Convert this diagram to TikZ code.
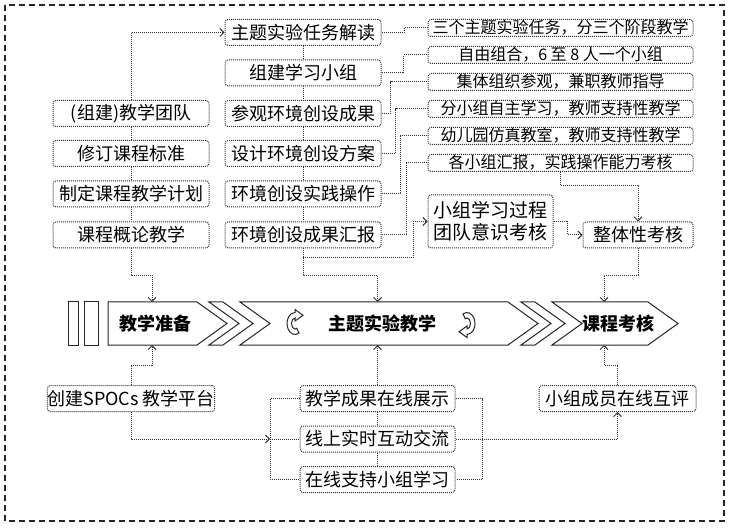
\documentclass[tikz,border=0pt]{standalone}
\usepackage{fontspec}
\setmainfont{Noto Sans CJK SC}
\usetikzlibrary{arrows.meta}

\begin{document}
\begin{tikzpicture}[x=0.5pt, y=-0.5pt, font=\fontsize{9}{11}\selectfont]
    \tikzstyle{task} = [rectangle, rounded corners=1.5pt, draw=black!80, line width=0.5pt, dash pattern=on 0.5pt off 0.5pt, minimum width=78pt, minimum height=13pt, inner sep=0pt, align=center]
    \tikzstyle{note} = [task, minimum width=132.5pt, minimum height=8.5pt, font=\fontsize{8}{9}\selectfont]
    \tikzstyle{link} = [draw=black!80, line width=0.5pt, dash pattern=on 0.5pt off 0.5pt]
    \tikzstyle{arrow} = [link, ->, >={Straight Barb[length=2pt,width=4pt]}]
    \tikzstyle{band} = [draw=black!85, line width=0.5pt, fill=white]
    \tikzstyle{stage} = [font=\bfseries\fontsize{9}{11}\selectfont]
    \useasboundingbox (0,0) rectangle (731,528);
    \draw[black!85, line width=0.6pt, dash pattern=on 3pt off 2pt] (5,5) rectangle (724,521);

    % middle band
    \draw[band] (68,302) rectangle (78,345);
    \draw[band] (84,302) rectangle (98,345);
    \draw[band] (108,302) -- (197,302) -- (227,323.5) -- (197,345) -- (108,345) -- cycle;
    \draw[band] (209,302) -- (223,302) -- (253,323.5) -- (223,345) -- (209,345) -- (239,323.5) -- cycle;
    \draw[band] (240,302) -- (508,302) -- (538,323.5) -- (508,345) -- (240,345) -- (270,323.5) -- cycle;
    \draw[band] (521,302) -- (535,302) -- (565,323.5) -- (535,345) -- (521,345) -- (551,323.5) -- cycle;
    \draw[band] (552,302) -- (648,302) -- (678,323.5) -- (648,345) -- (552,345) -- (582,323.5) -- cycle;
    \draw[band] (299,333) arc[start angle=60, end angle=270, x radius=8, y radius=11] -- (295,309.5) -- (303,315.3) -- (295,321) -- (295,318) arc[start angle=270, end angle=60, x radius=3.5, y radius=5.5] -- cycle;
    \draw[band] (463,314) arc[start angle=240, end angle=450, x radius=8, y radius=11] -- (467,337.5) -- (459,331.8) -- (467,326) -- (467,329) arc[start angle=450, end angle=240, x radius=3.5, y radius=5.5] -- cycle;
    \node[stage] (prep) at (155,323.5) {教学准备};
    \node[stage] (theme) at (382,323.5) {主题实验教学};
    \node[stage] (exam) at (618,323.5) {课程考核};
    \coordinate (prepIn) at (152,302);
    \coordinate (themeIn) at (377.5,302);
    \coordinate (examIn) at (604,302);
    \coordinate (prepOut) at (152,345);
    \coordinate (themeOut) at (377.5,345);
    \coordinate (examOut) at (604,345);

    % upper part
    \node[task] (T1) at (303,32.5) {主题实验任务解读};
    \node[task] (T2) at (303,73) {组建学习小组};
    \node[task] (T3) at (303,113.5) {参观环境创设成果};
    \node[task] (T4) at (303,153.5) {设计环境创设方案};
    \node[task] (T5) at (303,194) {环境创设实践操作};
    \node[task] (T6) at (303,235) {环境创设成果汇报};
    \node[task] (L1) at (131,113.5) {(组建)教学团队};
    \node[task] (L2) at (131,153.5) {修订课程标准};
    \node[task] (L3) at (131,194) {制定课程教学计划};
    \node[task] (L4) at (131,235) {课程概论教学};
    \node[note] (R1) at (560.5,28) {三个主题实验任务，分三个阶段教学};
    \node[note] (R2) at (560.5,55) {自由组合，6 至 8 人一个小组};
    \node[note] (R3) at (560.5,82) {集体组织参观，兼职教师指导};
    \node[note] (R4) at (560.5,109) {分小组自主学习，教师支持性教学};
    \node[note] (R5) at (560.5,136) {幼儿园仿真教室，教师支持性教学};
    \node[note] (R6) at (560.5,163) {各小组汇报，实践操作能力考核};
    \node[task, minimum width=62.5pt, minimum height=26.5pt, font=\fontsize{9.5}{11}\selectfont] (G) at (490.5,221.5) {小组学习过程\\团队意识考核};
    \node[task, minimum width=55pt] (Z) at (638,235) {整体性考核};
    \coordinate (split) at (303,258);

    \draw[link] (T1) -- (T2) -- (T3) -- (T4) -- (T5) -- (T6);
    \draw[link] (L1) -- (L2) -- (L3) -- (L4);
    \draw[arrow] (L1.north) |- (T1.west);
    \draw[arrow] (L4.south) -- ++(0,27) -| (prepIn);
    \draw[arrow] (T6.south) -- ++(0,27) -| (themeIn);
    \draw[arrow] (split) -- ++(110,0) |- (G.west);
    \draw[link] (T1.east) -- ++(23,0) |- (R1.west);
    \draw[link] (T2.east) -- ++(22,0) |- (R2.west);
    \draw[link] (T3.east) -- ++(9,0) |- (R3.west);
    \draw[link] (T4.east) -- ++(14,0) |- (R4.west);
    \draw[link] (T5.east) -- ++(19,0) |- (R5.west);
    \draw[link] (T6.east) -- ++(25,0) |- (R6.west);
    \draw[arrow] (R6.south) -- ++(0,13.5) -| (Z.north);
    \draw[arrow] (G.east) -- ++(14,0) |- (Z.west);
    \draw[arrow] (Z.south) -- ++(0,27) -| (examIn);

    % lower part
    \node[task, fill=white] (S) at (131,398.5) {创建SPOCs 教学平台};
    \node[task, minimum width=77.5pt, fill=white] (B1) at (377.5,398.5) {教学成果在线展示};
    \node[task, minimum width=77.5pt, fill=white] (B2) at (377.5,439) {线上实时互动交流};
    \node[task, minimum width=77.5pt, fill=white] (B3) at (377.5,479.5) {在线支持小组学习};
    \node[task, minimum width=78.5pt, fill=white] (P) at (617.5,398.5) {小组成员在线互评};
    \coordinate (hub) at (270,439);
    \coordinate (rhub) at (482,439);

    \draw[arrow] (S.north) -- ++(0,-20) -| (prepOut);
    \draw[arrow] (S.south) |- (hub);
    \draw[link] (hub) -- (B2.west);
    \draw[link] (B1.west) -| (hub) |- (B3.west);
    \draw[link] (B1.east) -| (rhub) |- (B3.east);
    \draw[link] (B1) -- (B2) -- (B3);
    \draw[arrow] (B1.north) -- (themeOut);
    \draw[arrow] (B2.east) -| (P.south);
    \draw[arrow] (P.north) -- ++(0,-20) -| (examOut);
\end{tikzpicture}
\end{document}
